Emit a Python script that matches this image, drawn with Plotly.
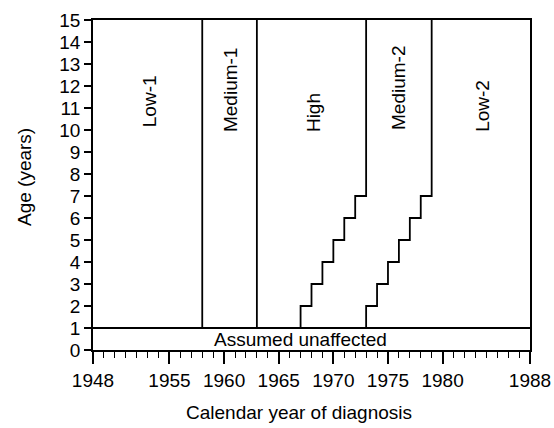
import plotly.graph_objects as go

# Data
period_boundary_years = [1958, 1963]
high_x = [1967, 1967, 1968, 1968, 1969, 1969, 1970, 1970, 1971, 1971, 1972, 1972, 1973, 1973]
high_y = [1, 2, 2, 3, 3, 4, 4, 5, 5, 6, 6, 7, 7, 15]
med2_x = [1973, 1973, 1974, 1974, 1975, 1975, 1976, 1976, 1977, 1977, 1978, 1978, 1979, 1979]
med2_y = [1, 2, 2, 3, 3, 4, 4, 5, 5, 6, 6, 7, 7, 15]
unaffected_age = 1
max_age = 15
x_start, x_end = 1948, 1988
region_labels = ["Low-1", "Medium-1", "High", "Medium-2", "Low-2"]
region_label_x = [1953.2, 1960.6, 1968.2, 1975.9, 1983.7]
region_label_y = [11.3, 11.8, 10.8, 11.9, 11.1]
x_tickvals = [1948, 1955, 1960, 1965, 1970, 1975, 1980, 1988]
y_tickvals = list(range(0, 16))

FONT = "Liberation Sans, Arial, Helvetica, sans-serif"
FS = 19
line_style = dict(color="black", width=1.8)

fig = go.Figure()
for xb in period_boundary_years:
    fig.add_trace(go.Scatter(x=[xb, xb], y=[unaffected_age, max_age], mode="lines",
                             line=line_style, hoverinfo="skip", showlegend=False))
fig.add_trace(go.Scatter(x=high_x, y=high_y, mode="lines", line=line_style,
                         hoverinfo="skip", showlegend=False))
fig.add_trace(go.Scatter(x=med2_x, y=med2_y, mode="lines", line=line_style,
                         hoverinfo="skip", showlegend=False))
fig.add_trace(go.Scatter(x=[x_start, x_end], y=[unaffected_age, unaffected_age], mode="lines",
                         line=line_style, hoverinfo="skip", showlegend=False))

for lab, lx, ly in zip(region_labels, region_label_x, region_label_y):
    fig.add_annotation(x=lx, y=ly, text=lab, showarrow=False, textangle=-90,
                       font=dict(family=FONT, size=FS, color="black"))
fig.add_annotation(x=1967, y=0.5, text="Assumed unaffected", showarrow=False,
                   font=dict(family=FONT, size=FS, color="black"))

# axis titles (plot area spans 437 x 330 px)
fig.add_annotation(xref="paper", yref="paper", x=(299 - 93) / 437, y=(350 - 412) / 330,
                   text="Calendar year of diagnosis", showarrow=False,
                   xanchor="center", yanchor="middle",
                   font=dict(family=FONT, size=FS, color="black"))
fig.add_annotation(xref="paper", yref="paper", x=(25 - 93) / 437, y=(350 - 177) / 330,
                   text="Age (years)", showarrow=False, textangle=-90,
                   xanchor="center", yanchor="middle",
                   font=dict(family=FONT, size=FS, color="black"))

fig.update_layout(
    width=554, height=428,
    margin=dict(l=93, r=24, t=20, b=78, autoexpand=False),
    paper_bgcolor="white", plot_bgcolor="white",
    font=dict(family=FONT, size=FS, color="black"),
    showlegend=False,
)
fig.update_xaxes(
    range=[x_start, x_end], tickmode="array", tickvals=x_tickvals,
    ticks="outside", ticklen=12, tickwidth=1.6, tickcolor="black",
    showline=True, linecolor="black", linewidth=1.8, mirror=True,
    showgrid=False, zeroline=False, automargin=False,
    tickfont=dict(family=FONT, size=FS),
    minor=dict(tickmode="array", tickvals=list(range(x_start, x_end + 1)),
               ticks="outside", ticklen=6, tickwidth=1.4, tickcolor="black", showgrid=False),
)
fig.update_yaxes(
    range=[0, max_age], tickmode="array", tickvals=y_tickvals,
    ticks="outside", ticklen=7, tickwidth=1.6, tickcolor="black",
    showline=True, linecolor="black", linewidth=1.8, mirror=True,
    showgrid=False, zeroline=False, automargin=False,
    tickfont=dict(family=FONT, size=FS),
)

fig.write_html("out.html",
               config={"displayModeBar": False},
               post_script="document.body.style.margin='0';document.body.style.overflow='hidden';")
